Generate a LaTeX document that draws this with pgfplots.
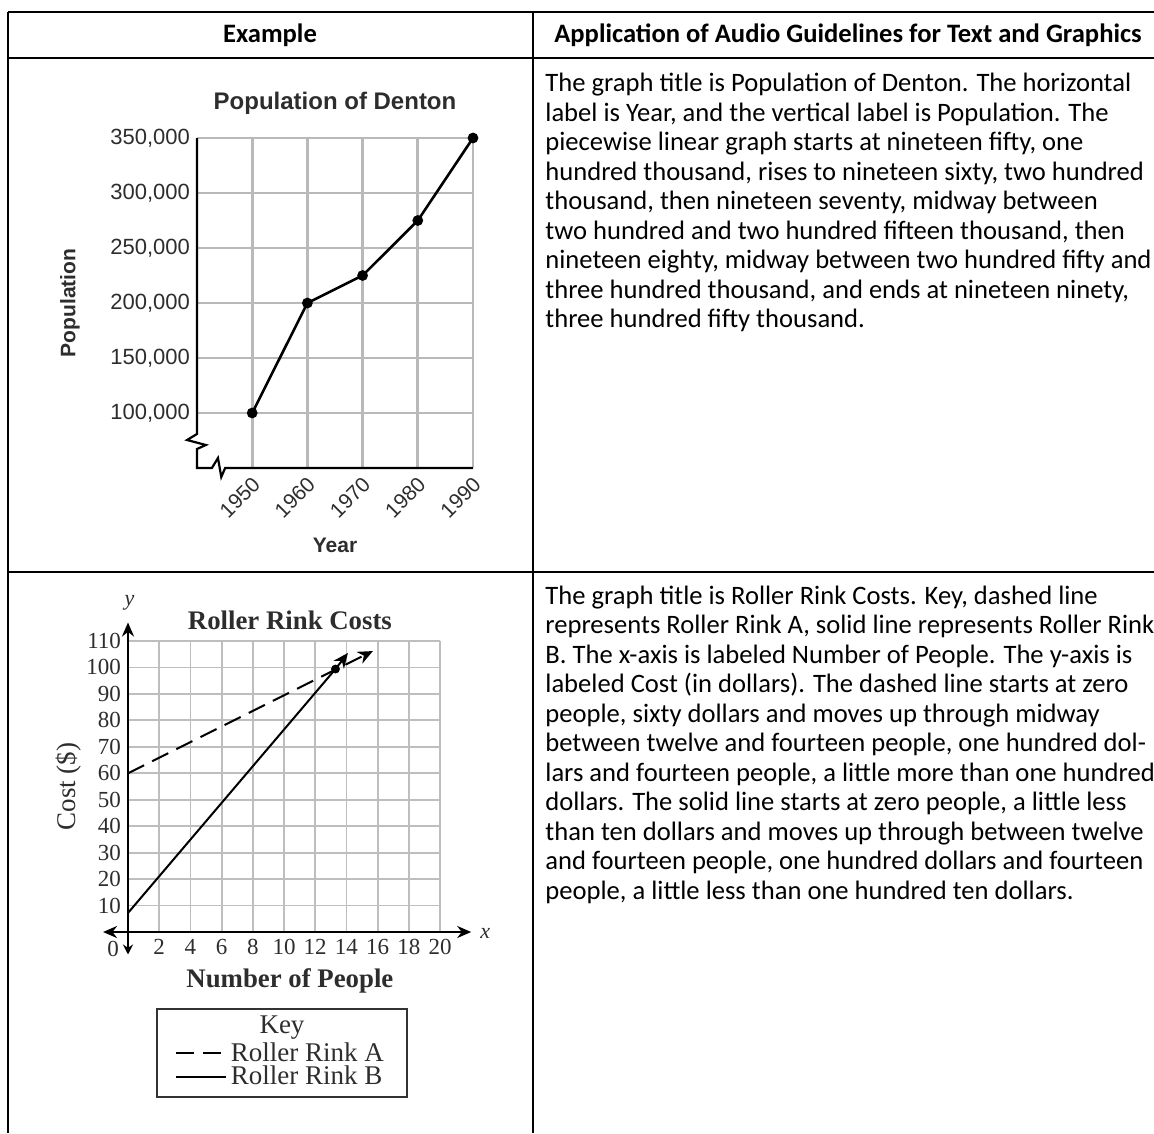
\documentclass[border=0pt]{standalone}
\usepackage{fontspec}
\setmainfont{Carlito}
\newfontfamily\arialfont{Liberation Sans}
\newfontfamily\timesfont{Liberation Serif}
\usepackage{pgfplots}
\pgfplotsset{compat=1.18}
\usetikzlibrary{arrows.meta}

\definecolor{gridgray}{RGB}{185,185,185}
\definecolor{gridlight}{RGB}{190,190,190}
\definecolor{scangray}{RGB}{45,45,45}

\newcommand{\bodyfont}{\fontsize{13.3}{16}\selectfont}

\begin{document}
\begin{tikzpicture}[x=0.5pt,y=-0.5pt]
\path[use as bounding box] (0,0) rectangle (1154,1133);

% table rules
\begin{scope}[line width=1.4pt]
  \draw (8,12) -- (1154,12);
  \draw (8,58) -- (1154,58);
  \draw (8,572) -- (1154,572);
  \draw (8,12) -- (8,1133);
  \draw (533,12) -- (533,1133);
\end{scope}

% header
\node[anchor=base, inner sep=0pt, font=\bodyfont\bfseries] at (270,43) {Example};
\node[anchor=base, inner sep=0pt, font=\bodyfont\bfseries] at (848,43) {Application of Audio Guidelines for Text and Graphics};

% text of row 1
\foreach \t [count=\i from 0] in {
  {The graph title is Population of Denton. The horizontal},
  {label is Year, and the vertical label is Population. The},
  {piecewise linear graph starts at nineteen fifty, one},
  {hundred thousand, rises to nineteen sixty, two hundred},
  {thousand, then nineteen seventy, midway between},
  {two hundred and two hundred fifteen thousand, then},
  {nineteen eighty, midway between two hundred fifty and},
  {three hundred thousand, and ends at nineteen ninety,},
  {three hundred fifty thousand.}}
  \node[anchor=base west, inner sep=0pt, font=\bodyfont] at (545,{92+29.5*\i}) {\t};

% text of row 2
\foreach \t [count=\i from 0] in {
  {The graph title is Roller Rink Costs. Key, dashed line},
  {represents Roller Rink A, solid line represents Roller Rink},
  {B. The x-axis is labeled Number of People. The y-axis is},
  {labeled Cost (in dollars). The dashed line starts at zero},
  {people, sixty dollars and moves up through midway},
  {between twelve and fourteen people, one hundred dol-},
  {lars and fourteen people, a little more than one hundred},
  {dollars. The solid line starts at zero people, a little less},
  {than ten dollars and moves up through between twelve},
  {and fourteen people, one hundred dollars and fourteen},
  {people, a little less than one hundred ten dollars.}}
  \node[anchor=base west, inner sep=0pt, font=\bodyfont] at (545,{604+29.5*\i}) {\t};

% ---- Population of Denton ----
\begin{axis}[
  at={(98.5pt,-234pt)}, anchor=south west,
  scale only axis, width=138pt, height=165pt,
  xmin=1940, xmax=1990, ymin=50000, ymax=350000,
  xtick={1950,1960,1970,1980,1990},
  ytick={100000,150000,200000,250000,300000,350000},
  scaled y ticks=false, scaled x ticks=false,
  axis lines*=left, axis line style={draw=none},
  major tick length=0pt,
  grid=major, major grid style={draw=gridgray, line width=1.3pt},
  clip=false,
  /pgf/number format/assume math mode=true,
  yticklabel style={font=\arialfont\fontsize{11}{12}\selectfont, text=scangray,
    /pgf/number format/fixed, /pgf/number format/1000 sep={,}},
  xticklabel style={font=\arialfont\fontsize{10.5}{12}\selectfont, text=scangray,
    /pgf/number format/fixed, /pgf/number format/1000 sep={},
    xshift=4.5pt, yshift=-4pt, rotate=45, anchor=east},
  title={Population of Denton},
  title style={at={(axis description cs:0.5,1.07)}, anchor=center,
    font=\arialfont\bfseries\fontsize{12}{14}\selectfont, text=scangray},
  xlabel={Year},
  xlabel style={at={(axis description cs:0.5,-0.233)}, anchor=center,
    font=\arialfont\bfseries\fontsize{10.5}{12}\selectfont, text=scangray},
  ylabel={Population},
  ylabel style={at={(axis description cs:-0.46,0.5)}, anchor=center,
    font=\arialfont\bfseries\fontsize{10.5}{12}\selectfont, text=scangray},
]
% axis lines with the break marks
\draw[black, line width=1.1pt] (axis cs:1940,350000) -- (axis cs:1940,80909)
  -- (axis cs:1938.2,75455) -- (axis cs:1941.6,70909) -- (axis cs:1940,67273)
  -- (axis cs:1940,50000) -- (axis cs:1942.7,50000) -- (axis cs:1943.8,59091)
  -- (axis cs:1944.4,41818) -- (axis cs:1945.1,50000) -- (axis cs:1990,50000);
\addplot[black, line width=1.3pt, mark=*, mark size=2pt] coordinates {
  (1950,100000) (1960,200000) (1970,225000) (1980,275000) (1990,350000)};
\end{axis}

% ---- Roller Rink Costs ----
\begin{axis}[
  at={(64pt,-466pt)}, anchor=south west,
  scale only axis, width=156pt, height=145.5pt,
  xmin=0, xmax=20, ymin=0, ymax=110,
  xtick={2,4,...,20}, ytick={10,20,...,110},
  axis lines*=left, axis line style={draw=none},
  major tick length=0pt,
  grid=major, major grid style={draw=gridlight, line width=0.9pt},
  clip=false,
  /pgf/number format/assume math mode=true,
  ticklabel style={font=\timesfont\fontsize{11.5}{13}\selectfont, text=scangray},
  title={Roller Rink Costs},
  title style={at={(axis description cs:0.519,1.031)}, anchor=center,
    font=\timesfont\bfseries\fontsize{13.4}{15}\selectfont, text=scangray},
  xlabel={Number of People},
  xlabel style={at={(axis description cs:0.519,-0.168)}, anchor=center,
    font=\timesfont\bfseries\fontsize{13.4}{15}\selectfont, text=scangray},
  ylabel={Cost (\$)},
  ylabel style={at={(axis description cs:-0.189,0.5)}, anchor=center,
    font=\timesfont\fontsize{13.5}{15}\selectfont, text=scangray},
  legend style={at={(axis description cs:0.13,-0.35)}, anchor=north west,
    draw=none, fill=none, font=\timesfont\fontsize{13.5}{15}\selectfont,
    text=scangray, row sep=-3pt},
  legend cell align=left,
  legend image code/.code={\draw[#1,-] (0pt,0pt) -- (25pt,0pt);},
]
\draw[black, line width=1.4pt, {Stealth[length=7pt,width=6pt]}-{Stealth[length=7pt,width=6pt]}]
  (axis cs:-1.6,0) -- (axis cs:22,0);
\draw[black, line width=1.4pt, {Stealth[length=5pt,width=5pt]}-{Stealth[length=7pt,width=6pt]}]
  (axis cs:0,-8.5) -- (axis cs:0,117);
\node[font=\timesfont\itshape\fontsize{11}{12}\selectfont, text=scangray] at (axis cs:0.1,124.5) {y};
\node[font=\timesfont\itshape\fontsize{11}{12}\selectfont, text=scangray] at (axis cs:22.9,-0.6) {x};
\node[font=\timesfont\fontsize{11.5}{13}\selectfont, text=scangray] at (axis cs:-0.95,-6.5) {0};
\addplot[black, line width=1pt, dash pattern=on 9pt off 4.5pt, -{Stealth[length=7.5pt,width=6.5pt]}]
  coordinates {(0,60) (13.3,99.2) (15.7,106.2)};
\addlegendentry{Roller Rink A}
\addplot[black, line width=1pt, -{Stealth[length=7.5pt,width=6.5pt]}]
  coordinates {(0,7.2) (13.3,99.4) (14.1,105.5)};
\addlegendentry{Roller Rink B}
\addplot[forget plot, only marks, black, mark=*, mark size=2pt] coordinates {(13.3,99.4)};
\end{axis}

% key box
\draw[black!80, line width=1.1pt] (157,1009) rectangle (407,1097);
\node[font=\timesfont\fontsize{13.5}{15}\selectfont, text=scangray] at (282,1028) {Key};

\end{tikzpicture}
\end{document}
